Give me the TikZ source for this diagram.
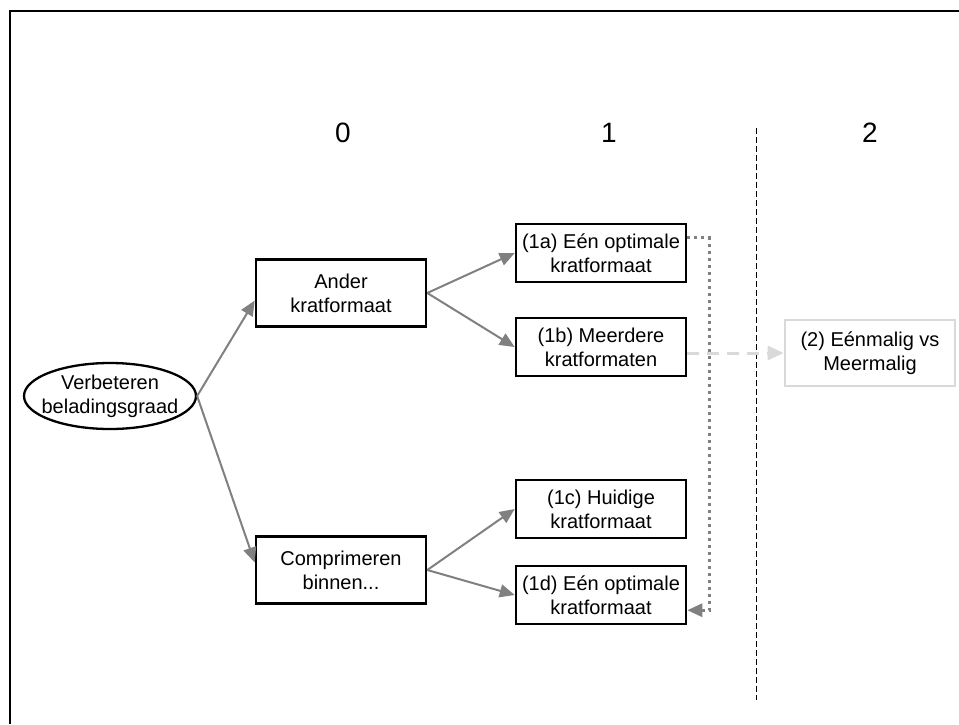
\documentclass[tikz,border=0pt]{standalone}
\usepackage{fontspec}
\setmainfont{Liberation Sans}
\usepackage{tikz}
\usetikzlibrary{arrows.meta,shapes.geometric,positioning}
\definecolor{pijlgrijs}{HTML}{808080}
\definecolor{lichtgrijs}{HTML}{D9D9D9}
\tikzset{
  blok/.style={draw=black, line width=2.6pt, rectangle, align=center, inner sep=0pt,
    minimum width=170pt, minimum height=58pt, font=\fontsize{20}{24}\selectfont},
  blokhoog/.style={blok, minimum height=67pt},
  blokgrijs/.style={blok, draw=lichtgrijs, minimum height=66pt},
  doel/.style={draw=black, line width=2.3pt, ellipse, align=center,
    inner xsep=-8pt, inner ysep=0pt, minimum width=172pt, minimum height=66pt,
    font=\fontsize{20}{24}\selectfont},
  pijl/.style={draw=pijlgrijs, line width=2pt, -{Triangle[length=15pt,width=13pt]}},
  stippel/.style={pijl, line width=3pt, dash pattern=on 3pt off 4pt},
  streep/.style={draw=lichtgrijs, line width=3pt, dash pattern=on 12pt off 8pt,
    -{Triangle[length=16pt,width=14pt,fill=lichtgrijs]}},
  fase/.style={font=\fontsize{28}{30}\selectfont},
}
\begin{document}
\begin{tikzpicture}[x=1pt, y=-1pt]
    \useasboundingbox (0,0) rectangle (959,724);
    % Kader
    \draw[line width=2pt] (10,724) -- (10,11) -- (959,11);
    % Fasen
    \node[fase] (f0) at (343,133) {0};
    \node[fase] (f1) at (609,133) {1};
    \node[fase] (f2) at (870,133) {2};
    \draw[line width=1pt, dash pattern=on 6pt off 3pt] (756,128) -- (756,700);
    % Knopen
    \node[doel] (verb) at (110,396) {Verbeteren\\beladingsgraad};
    \node[blokhoog] (ander) at (341,293) {Ander\\kratformaat};
    \node[blokhoog] (compr) at (341,570) {Comprimeren\\binnen...};
    \node[blok] (opt1) at (601,253) {(1a) Eén optimale\\kratformaat};
    \node[blok] (meer) at (601,347) {(1b) Meerdere\\kratformaten};
    \node[blok] (huid) at (601,509) {(1c) Huidige\\kratformaat};
    \node[blok] (opt2) at (601,595) {(1d) Eén optimale\\kratformaat};
    \node[blokgrijs] (twee) at (870,353) {(2) Eénmalig vs\\Meermalig};
    % Pijlen
    \draw[pijl] (verb.east) -- (ander.185);
    \draw[pijl] (verb.east) -- (compr.175);
    \draw[pijl] (ander.east) -- (opt1.west);
    \draw[pijl] (ander.east) -- (meer.west);
    \draw[pijl] (compr.east) -- (huid.west);
    \draw[pijl] (compr.east) -- (opt2.west);
    \draw[stippel] (opt1.10) -- ++(22,0) |- (opt2.-10);
    \draw[streep] (meer.east |- twee.west) -- (twee.west);
\end{tikzpicture}
\end{document}
